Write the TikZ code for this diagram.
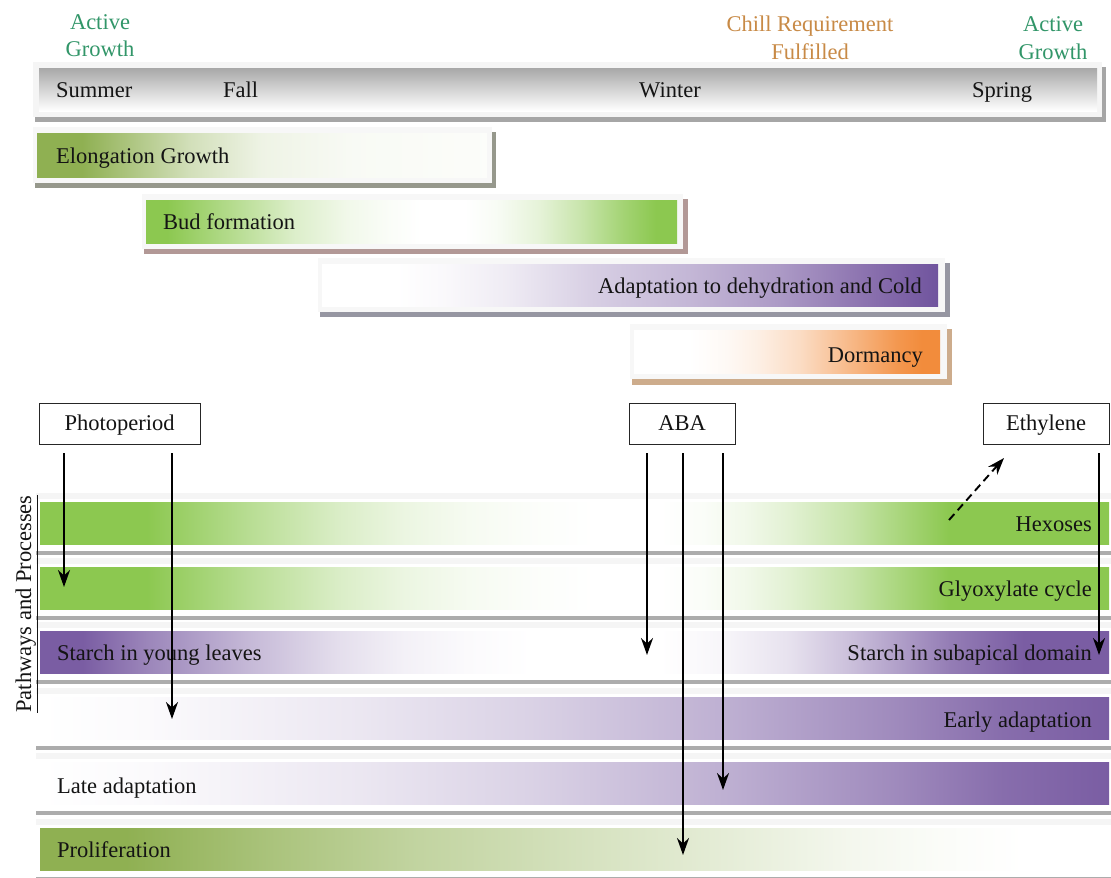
\documentclass[tikz,border=0pt]{standalone}
\usepackage{fontspec}
\setmainfont{Liberation Serif}
\usetikzlibrary{arrows.meta}
\definecolor{olv}{RGB}{143,176,82}
\definecolor{grn}{RGB}{140,200,80}
\definecolor{pur}{RGB}{122,93,163}
\definecolor{purD}{RGB}{112,84,158}
\definecolor{org}{RGB}{242,140,60}
\definecolor{agreen}{RGB}{50,150,105}
\definecolor{chill}{RGB}{200,138,70}
\definecolor{sepgray}{RGB}{172,172,172}
\definecolor{txt}{RGB}{20,20,20}
\definecolor{shOl}{RGB}{150,152,140}
\definecolor{shBud}{RGB}{178,152,150}
\definecolor{shAd}{RGB}{150,150,162}
\definecolor{shDo}{RGB}{205,172,140}
\pgfdeclarehorizontalshading{elongsh}{100bp}{color(0bp)=(olv); color(25bp)=(olv); color(30bp)=(olv); color(36bp)=(olv!70!white); color(42bp)=(olv!40!white); color(50bp)=(olv!15!white); color(60bp)=(olv!6!white); color(75bp)=(olv!3!white); color(100bp)=(olv!3!white)}
\pgfdeclarehorizontalshading{budsh}{100bp}{color(0bp)=(grn); color(25bp)=(grn); color(27bp)=(grn); color(33bp)=(grn!65!white); color(39bp)=(grn!30!white); color(44bp)=(grn!12!white); color(48bp)=(grn!4!white); color(51bp)=(white); color(55bp)=(white); color(58bp)=(grn!6!white); color(62bp)=(grn!22!white); color(66bp)=(grn!48!white); color(70bp)=(grn!80!white); color(73bp)=(grn); color(100bp)=(grn)}
\pgfdeclarehorizontalshading{adaptsh}{100bp}{color(0bp)=(white); color(25bp)=(white); color(31bp)=(white); color(35bp)=(pur!4!white); color(40bp)=(pur!12!white); color(47bp)=(pur!30!white); color(55bp)=(pur!45!white); color(62bp)=(pur!62!white); color(70bp)=(pur!90!white); color(75bp)=(purD); color(100bp)=(purD)}
\pgfdeclarehorizontalshading{dormsh}{100bp}{color(0bp)=(white); color(25bp)=(white); color(34bp)=(white); color(40bp)=(org!5!white); color(45bp)=(org!13!white); color(52bp)=(org!30!white); color(60bp)=(org!60!white); color(68bp)=(org!90!white); color(72bp)=(org); color(100bp)=(org)}
\pgfdeclarehorizontalshading{hexsh}{100bp}{color(0bp)=(grn); color(25bp)=(grn); color(30bp)=(grn); color(35bp)=(grn!60!white); color(39bp)=(grn!32!white); color(42bp)=(grn!17!white); color(45bp)=(grn!8!white); color(48bp)=(grn!3!white); color(51bp)=(white); color(54bp)=(white); color(56bp)=(grn!4!white); color(58bp)=(grn!12!white); color(60bp)=(grn!25!white); color(63bp)=(grn!50!white); color(67.5bp)=(grn); color(100bp)=(grn)}
\pgfdeclarehorizontalshading{starchsh}{100bp}{color(0bp)=(pur); color(25bp)=(pur); color(27bp)=(pur); color(30bp)=(pur!75!white); color(35bp)=(pur!42!white); color(39bp)=(pur!20!white); color(42bp)=(pur!9!white); color(45bp)=(pur!3!white); color(48bp)=(white); color(54bp)=(white); color(57bp)=(pur!6!white); color(60bp)=(pur!18!white); color(63bp)=(pur!40!white); color(67.5bp)=(pur!80!white); color(71bp)=(pur); color(100bp)=(pur)}
\pgfdeclarehorizontalshading{earlysh}{100bp}{color(0bp)=(white); color(25bp)=(white); color(30bp)=(pur!3!white); color(40bp)=(pur!15!white); color(48bp)=(pur!28!white); color(57.5bp)=(pur!50!white); color(65bp)=(pur!72!white); color(70bp)=(pur!90!white); color(75bp)=(pur); color(100bp)=(pur)}
\pgfdeclarehorizontalshading{prolsh}{100bp}{color(0bp)=(olv); color(25bp)=(olv); color(29bp)=(olv); color(36bp)=(olv!75!white); color(42.5bp)=(olv!55!white); color(50bp)=(olv!38!white); color(57.5bp)=(olv!22!white); color(63bp)=(olv!10!white); color(67bp)=(olv!4!white); color(71bp)=(white); color(100bp)=(white)}
\begin{document}
\begin{tikzpicture}[x=1pt,y=-1pt,
  lbl/.style={font=\fontsize{22.5}{26}\selectfont, inner sep=0pt, text=txt},
  head/.style={lbl, align=center},
  srcbox/.style={lbl, draw=black!85, line width=1pt, fill=white, minimum height=41pt, text height=16pt, text depth=2pt},
  arr/.style={draw=black, line width=1.9pt, -{Stealth[length=17pt,width=12pt,inset=5.5pt]}},
  darr/.style={arr, dash pattern=on 8pt off 5pt},
]
\useasboundingbox (0,0) rectangle (1111,878);
\fill[white] (0,0) rectangle (1111,878);

% ---------- headings ----------
\node[head, text=agreen, anchor=base] (ag1a) at (100,29) {Active};
\node[head, text=agreen, anchor=base] (ag1b) at (100,56) {Growth};
\node[head, text=chill, anchor=base] (ch1) at (810,31) {Chill Requirement};
\node[head, text=chill, anchor=base] (ch2) at (810,59) {Fulfilled};
\node[head, text=agreen, anchor=base] (ag2a) at (1053,31) {Active};
\node[head, text=agreen, anchor=base] (ag2b) at (1053,59) {Growth};

% ---------- season bar ----------
\fill[black!35] (35,67) rectangle (1106,122);
\fill[black!4] (33,62) rectangle (1102,117);
\fill[top color=black!34, bottom color=white] (39,68) rectangle (1097,111);
\node[lbl, anchor=base west] (summer) at (56,97) {Summer};
\node[lbl, anchor=base west] (fall) at (223,97) {Fall};
\node[lbl, anchor=base] (winter) at (670,97) {Winter};
\node[lbl, anchor=base] (spring) at (1002,97) {Spring};

% ---------- phase bars ----------
\fill[shOl] (35,132) rectangle (496,188);
\fill[black!3] (33,127) rectangle (492,183);
\fill[shading=elongsh] (37,133) rectangle (487,177);
\node[lbl, anchor=base west] (elong) at (56,163) {Elongation Growth};

\fill[shBud] (144,199) rectangle (688,254);
\fill[black!3] (142,194) rectangle (683,249);
\fill[shading=budsh] (146,200) rectangle (677,243);
\node[lbl, anchor=base west] (bud) at (163,229) {Bud formation};

\fill[shAd] (320,263) rectangle (950,317);
\fill[black!3] (318,258) rectangle (945,312);
\fill[shading=adaptsh] (322,264) rectangle (938,306);
\node[lbl, anchor=base east] (adapt) at (922,293) {Adaptation to dehydration and Cold};

\fill[shDo] (632,329) rectangle (952,385);
\fill[black!3] (630,324) rectangle (947,379);
\fill[shading=dormsh] (634,330) rectangle (940,373);
\node[lbl, anchor=base east] (dorm) at (923,362) {Dormancy};

% ---------- process rows ----------
\foreach \t/\sh in {502/hexsh, 567/hexsh, 631/starchsh, 697/earlysh, 762/earlysh, 828/prolsh} {
  \fill[black!4] (36,\t-9) rectangle (1111,\t-3);
  \fill[shading=\sh] (40,\t) rectangle (1109,\t+42);
  \fill[sepgray] (36,\t+49) rectangle (1111,\t+53);
}
\node[lbl, anchor=base east] (hex) at (1092,531) {Hexoses};
\node[lbl, anchor=base east] (gly) at (1092,596) {Glyoxylate cycle};
\node[lbl, anchor=base west] (styl) at (57,660) {Starch in young leaves};
\node[lbl, anchor=base east] (stsub) at (1092,660) {Starch in subapical domain};
\node[lbl, anchor=base east] (early) at (1092,727) {Early adaptation};
\node[lbl, anchor=base west] (late) at (57,793) {Late adaptation};
\node[lbl, anchor=base west] (prol) at (57,857) {Proliferation};

\node[lbl, rotate=90, anchor=base] (pathw) at (31,604) {\underline{Pathways and Processes}};

% ---------- signal boxes ----------
\node[srcbox, minimum width=161pt] (photo) at (119.5,423.5) {Photoperiod};
\node[srcbox, minimum width=106pt] (aba) at (682,423.5) {ABA};
\node[srcbox, minimum width=126pt] (eth) at (1046,423.5) {Ethylene};

% ---------- arrows ----------
\coordinate (p1s) at (64,453);   \coordinate (p1e) at (64,587);
\coordinate (p2s) at (172,453);  \coordinate (p2e) at (172,719);
\coordinate (a1s) at (647,453);  \coordinate (a1e) at (647,655);
\coordinate (a2s) at (683,453);  \coordinate (a2e) at (683,855);
\coordinate (a3s) at (723,453);  \coordinate (a3e) at (723,790);
\coordinate (e1s) at (1099,453); \coordinate (e1e) at (1099,655);
\coordinate (dS) at (949,520);   \coordinate (dE) at (1004,458);
\draw[arr] (p1s) -- (p1e);
\draw[arr] (p2s) -- (p2e);
\draw[arr] (a1s) -- (a1e);
\draw[arr] (a2s) -- (a2e);
\draw[arr] (a3s) -- (a3e);
\draw[arr] (e1s) -- (e1e);
\draw[darr] (dS) -- (dE);
\end{tikzpicture}
\end{document}
